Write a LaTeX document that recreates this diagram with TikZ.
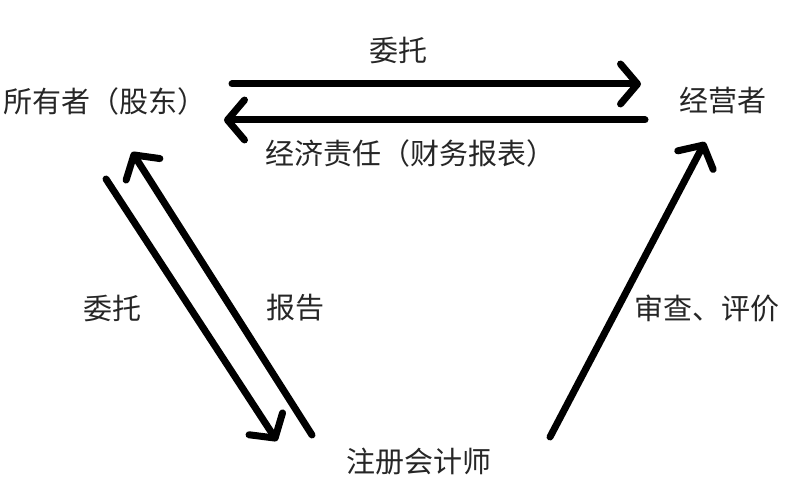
\documentclass[tikz,border=0pt]{standalone}
\usepackage{fontspec}
\newfontfamily\cjk{Noto Sans CJK SC}
\usetikzlibrary{arrows.meta}
\begin{document}
\begin{tikzpicture}[x=1pt,y=-1pt,
  lbl/.style={font=\cjk\fontsize{29}{32}\selectfont, text=black!85, inner sep=0pt},
  arr/.style={line width=7pt, line cap=round, black,
    -{Straight Barb[length=17pt,width=40pt,line width=7pt,round]}}]
\useasboundingbox[fill=white] (0,0) rectangle (800,497);
\node[lbl] (owner) at (105,101) {所有者（股东）};
\node[lbl] (mgr) at (723,101) {经营者};
\node[lbl] (cpa) at (419,462) {注册会计师};
\node[lbl] (t1) at (398,50) {委托};
\node[lbl] (t2) at (410,153) {经济责任（财务报表）};
\node[lbl] (t3) at (112,308) {委托};
\node[lbl] (t4) at (295,308) {报告};
\node[lbl] (t5) at (707,308) {审查、评价};
\coordinate (a1s) at (232,84);
\coordinate (a1e) at (641,84);
\coordinate (a2s) at (645,120);
\coordinate (a2e) at (224,120);
\coordinate (a3s) at (106,179);
\coordinate (a3e) at (277,441);
\coordinate (a4s) at (312,435);
\coordinate (a4e) at (132,152);
\coordinate (a5s) at (550,437);
\coordinate (a5e) at (705,142);
\draw[arr] (a1s) -- (a1e);
\draw[arr] (a2s) -- (a2e);
\draw[arr] (a3s) -- (a3e);
\draw[arr] (a4s) -- (a4e);
\draw[arr] (a5s) -- (a5e);
\end{tikzpicture}
\end{document}
